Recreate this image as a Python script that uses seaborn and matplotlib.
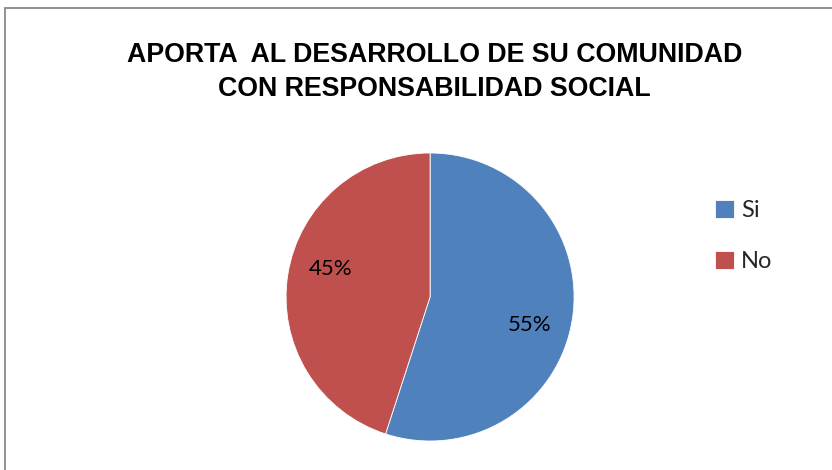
"""
Pie chart: APORTA AL DESARROLLO DE SU COMUNIDAD CON RESPONSABILIDAD SOCIAL
"""
# %% import packages
import matplotlib
matplotlib.use('Agg')
import matplotlib.pyplot as plt
import matplotlib.patches as mpatches
import numpy as np
import seaborn as sns

# %% data
categories = ['Si', 'No']
shares = [55, 45]
colours = ['#4F81BD', '#C0504D']
title = 'APORTA  AL DESARROLLO DE SU COMUNIDAD\nCON RESPONSABILIDAD SOCIAL'

# %% plot
sns.set_theme(style='white')
plt.rcParams['font.family'] = ['Liberation Sans', 'DejaVu Sans']

fig = plt.figure(figsize=(8.32, 4.70), dpi=100)
fig.patch.set_facecolor('white')

# chart border (only top and left visible in the reference)
border = mpatches.Rectangle((5 / 832, -0.05), 1.2, 1 - 8 / 470 + 0.05,
                            transform=fig.transFigure, fill=False,
                            edgecolor='#888888', lw=1.3)
fig.patches.append(border)

ax = fig.add_axes([0.3438, 0.0617, 0.3462, 0.6128])
wedges, texts, autotexts = ax.pie(shares, colors=colours, startangle=90,
                                  counterclock=False, autopct='%1.0f%%',
                                  pctdistance=0.716,
                                  wedgeprops=dict(edgecolor='white', linewidth=0.6),
                                  textprops=dict(fontsize=16, color='black',
                                                 family=['Lato', 'DejaVu Sans']))
# Excel-style label placement: a bit clockwise of the wedge middle
for w, t in zip(wedges, autotexts):
    ang = np.deg2rad((w.theta1 + w.theta2) / 2 - 7)
    t.set_position((0.716 * np.cos(ang), 0.716 * np.sin(ang)))

ax.set_xlim(-1, 1)
ax.set_ylim(-1, 1)
ax.set_aspect('equal')

fig.text(0.522, 0.847, title, ha='center', va='center', fontsize=19.3,
         fontweight='bold', linespacing=1.36, color='black')

fig.legend(wedges, categories, loc='center left', bbox_to_anchor=(0.834, 0.498),
           frameon=False, handlelength=0.8, handleheight=0.8, handletextpad=0.3,
           labelspacing=1.25, prop=dict(family=['Lato', 'DejaVu Sans'], size=17))

fig.savefig('out.png', dpi=100)
plt.close()
